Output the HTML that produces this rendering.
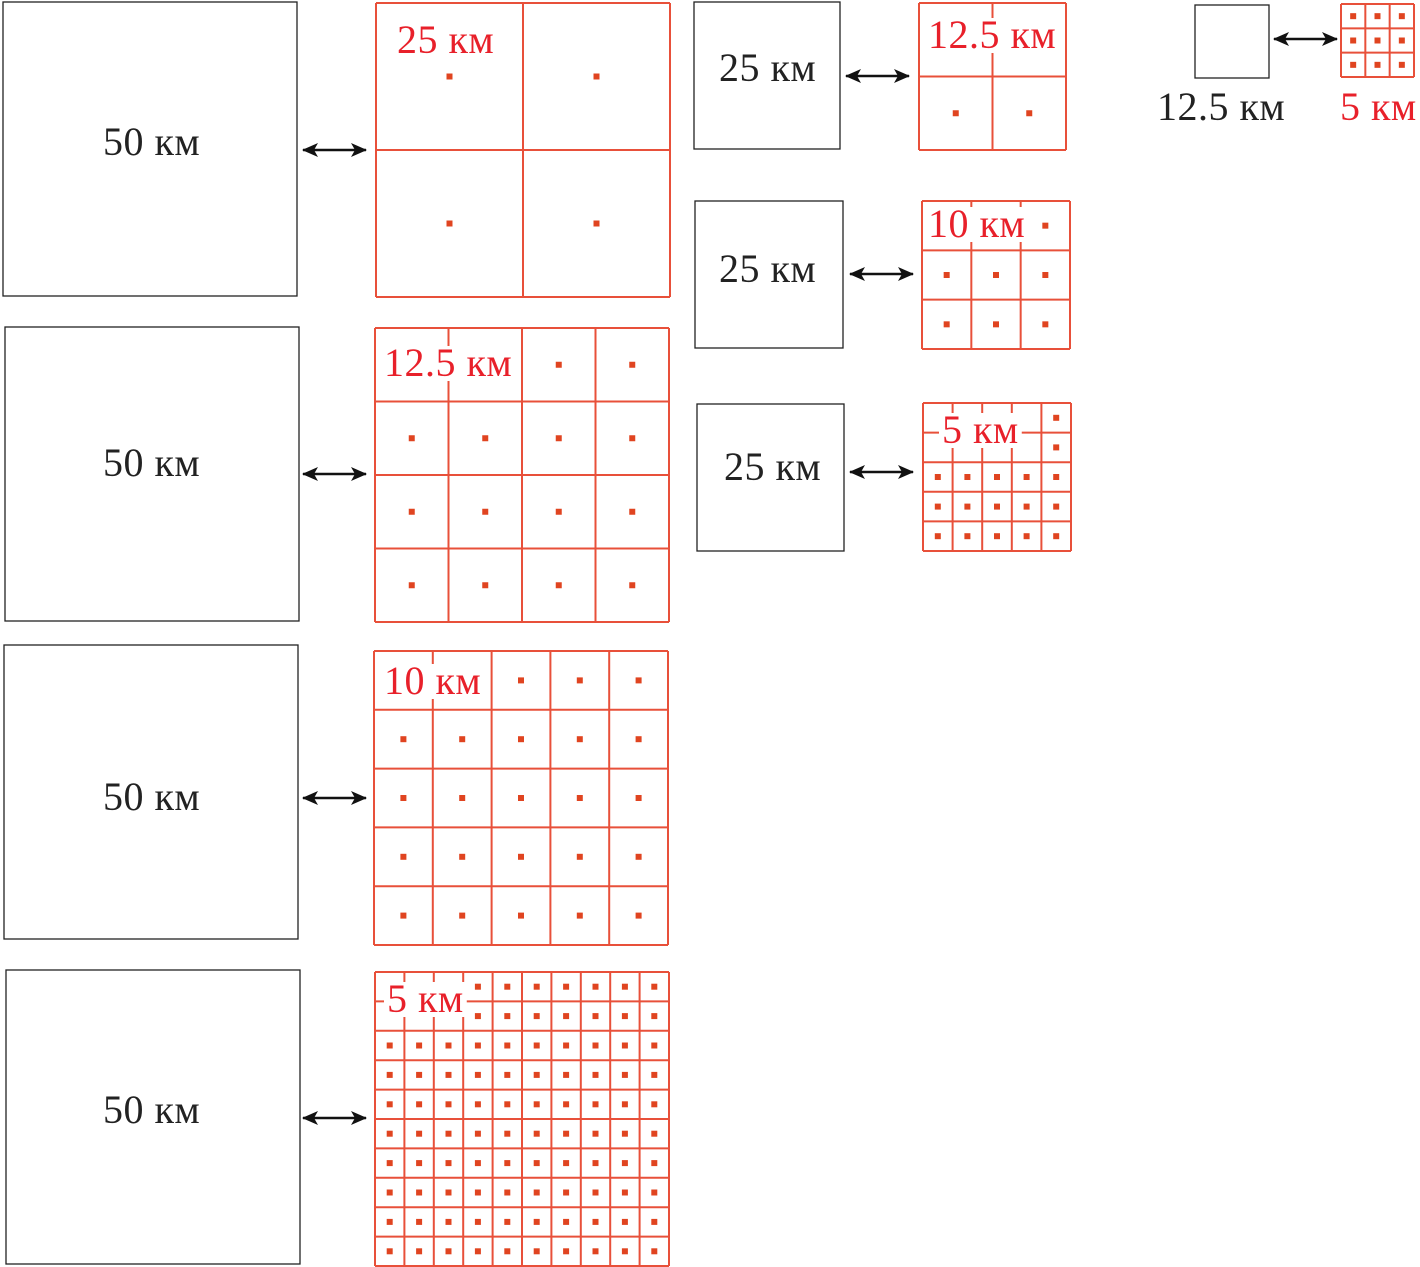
<!DOCTYPE html>
<html><head><meta charset="utf-8"><style>
html,body{margin:0;padding:0;background:#fff;}
svg{display:block;}
text{font-family:"Liberation Serif",serif;font-size:40px;letter-spacing:0.5px;}
.r{fill:#e8202a;}
.k{fill:#222;}
</style></head><body>
<svg id="s" width="1420" height="1267" viewBox="0 0 1420 1267">
<defs><marker id="a" markerWidth="16" markerHeight="14" refX="15" refY="7" orient="auto-start-reverse" markerUnits="userSpaceOnUse"><path d="M0,0 L16,7 L0,14 L4,7 z" fill="#111"/></marker></defs>
<g id="grids"></g>
<g fill="none" stroke="#222" stroke-width="1.3">
<rect x="3" y="2" width="294" height="294"/>
<rect x="5" y="327" width="294" height="294"/>
<rect x="4" y="645" width="294" height="294"/>
<rect x="6" y="970" width="294" height="294"/>
<rect x="694" y="2" width="146" height="147"/>
<rect x="695" y="201" width="148" height="147"/>
<rect x="697" y="404" width="147" height="147"/>
<rect x="1195" y="5" width="74" height="73"/>
</g>
<g stroke="#111" stroke-width="2.5" marker-start="url(#a)" marker-end="url(#a)">
<line x1="303" y1="150" x2="366" y2="150"/>
<line x1="303" y1="474" x2="366" y2="474"/>
<line x1="303" y1="798" x2="366" y2="798"/>
<line x1="303" y1="1118" x2="366" y2="1118"/>
<line x1="846" y1="76" x2="909" y2="76"/>
<line x1="850" y1="274" x2="913" y2="274"/>
<line x1="850" y1="472" x2="913" y2="472"/>
<line x1="1274" y1="39" x2="1337" y2="39"/>
</g>
<g class="k">
<text x="103" y="155">50 км</text>
<text x="103" y="476">50 км</text>
<text x="103" y="810">50 км</text>
<text x="103" y="1123">50 км</text>
<text x="719" y="81">25 км</text>
<text x="719" y="282">25 км</text>
<text x="724" y="480">25 км</text>
<text x="1157" y="120">12.5 км</text>
</g>
<text class="r" x="1340" y="120">5 км</text>
<g id="labels">
<text class="r" x="397" y="53">25 км</text>
<text class="r" x="384" y="376">12.5 км</text>
<text class="r" x="384" y="694">10 км</text>
<text class="r" x="387" y="1012">5 км</text>
<text class="r" x="928" y="48">12.5 км</text>
<text class="r" x="928" y="237">10 км</text>
<text class="r" x="942" y="443">5 км</text>
</g>
</svg>
<script>
var NS="http://www.w3.org/2000/svg",G=document.getElementById("grids");
function el(t,a){var e=document.createElementNS(NS,t);for(var k in a)e.setAttribute(k,a[k]);G.appendChild(e);return e;}
var grids=[[376,3,294,2,null],[375,328,294,4,[0,1,0,0]],[374,651,294,5,[0,1,0,0]],[375,972,294,10,[0,2,0,1]],
[919,3,147,2,[0,1,0,0]],[922,201,148,3,[0,1,0,0]],[923,403,148,5,[0,3,0,1]],[1341,4,73,3,null]];
grids.forEach(function(g){
 var x=g[0],y=g[1],s=g[2],n=g[3],c=s/n,sk=g[4];
 for(var i=0;i<=n;i++){
  el("line",{x1:x+i*c,y1:y,x2:x+i*c,y2:y+s,stroke:"#e8503a","stroke-width":2});
  el("line",{x1:x,y1:y+i*c,x2:x+s,y2:y+i*c,stroke:"#e8503a","stroke-width":2});
 }
 var d=6;
 for(var r=0;r<n;r++)for(var q=0;q<n;q++){
  if(sk&&q>=sk[0]&&q<=sk[1]&&r>=sk[2]&&r<=sk[3])continue;
  el("rect",{x:x+(q+.5)*c-d/2,y:y+(r+.5)*c-d/2,width:d,height:d,fill:"#e04420"});
 }
});
var L=document.querySelectorAll("#labels text");
for(var i=1;i<L.length;i++){var b=L[i].getBBox();
 var rc=document.createElementNS(NS,"rect");
 rc.setAttribute("x",b.x-3);rc.setAttribute("y",b.y+6);rc.setAttribute("width",b.width+6);rc.setAttribute("height",b.height-10);rc.setAttribute("fill","#fff");
 L[i].parentNode.insertBefore(rc,L[i]);}
</script>
</body></html>
